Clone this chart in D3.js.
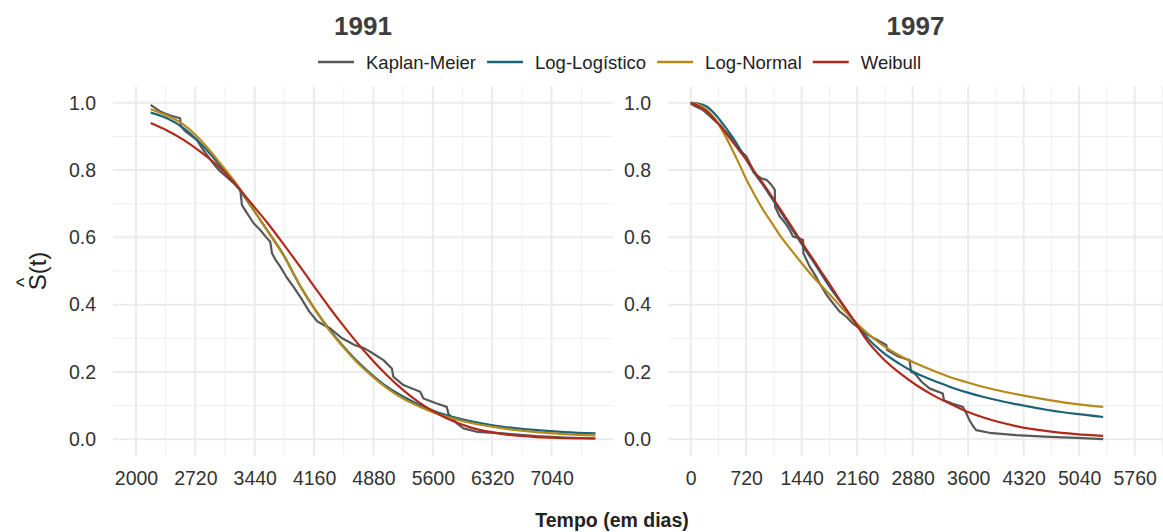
<!DOCTYPE html>
<html>
<head>
<meta charset="utf-8">
<script src="https://cdn.jsdelivr.net/npm/d3@7"></script>
<style>
    body { margin: 0; background: #fff; }
    svg { display: block; font-family: "Liberation Sans", Arial, sans-serif; }
</style>
</head>
<body>
<div id="chart"></div>
<script>

// Data ///////////////////////////////////////////////////////////////////////

const seriesNames = ["Kaplan-Meier", "Log-Logístico", "Log-Normal", "Weibull"];
const seriesColors = ["#585858", "#1d6377", "#b5891a", "#b02a1c"];
const panelTitles = ["1991", "1997"];

const yTicks = [0, 0.2, 0.4, 0.6, 0.8, 1.0];
const xTicks1991 = [2000, 2720, 3440, 4160, 4880, 5600, 6320, 7040];
const xTicks1997 = [0, 720, 1440, 2160, 2880, 3600, 4320, 5040, 5760];

// 1991: fitted curves
const t1991 = [2178, 2376, 2577, 2780, 2982, 3184, 3385, 3588, 3789, 3992, 4172, 4350,
    4500, 4650, 4841, 5043, 5244, 5446, 5648, 5850, 6052, 6456, 6860, 7200, 7573];
const ll1991 = [0.971, 0.954, 0.925, 0.88, 0.825, 0.766, 0.696, 0.622, 0.548, 0.455, 0.385, 0.325,
    0.28, 0.24, 0.196, 0.156, 0.126, 0.101, 0.081, 0.066, 0.054, 0.037, 0.027, 0.021, 0.017];
const ln1991 = [0.981, 0.962, 0.935, 0.89, 0.832, 0.77, 0.698, 0.622, 0.546, 0.455, 0.385, 0.322,
    0.278, 0.236, 0.192, 0.152, 0.12, 0.096, 0.076, 0.061, 0.049, 0.032, 0.021, 0.015, 0.011];
const wb1991 = [0.94, 0.918, 0.89, 0.855, 0.815, 0.765, 0.705, 0.645, 0.58, 0.512, 0.45, 0.39,
    0.342, 0.296, 0.242, 0.19, 0.145, 0.107, 0.077, 0.053, 0.035, 0.015, 0.006, 0.003, 0.002];

// 1991: Kaplan-Meier steps
const kmT1991 = [2178, 2230, 2290, 2350, 2420, 2480, 2535, 2545, 2600, 2680, 2739, 2800, 2860,
    2921, 2970, 3022, 3100, 3184, 3265, 3285, 3346, 3427, 3507, 3580, 3628, 3649, 3700, 3750,
    3830, 3911, 4000, 4100, 4200, 4350, 4500, 4650, 4770, 4841, 5001, 5103, 5122, 5243, 5446,
    5486, 5648, 5769, 5789, 5891, 5971, 6133, 6455, 6860, 7200, 7567];
const kmS1991 = [0.994, 0.985, 0.975, 0.968, 0.962, 0.958, 0.954, 0.93, 0.915, 0.9, 0.89, 0.865,
    0.845, 0.825, 0.81, 0.796, 0.78, 0.761, 0.741, 0.696, 0.672, 0.642, 0.622, 0.6, 0.587, 0.553,
    0.53, 0.513, 0.48, 0.453, 0.42, 0.38, 0.35, 0.33, 0.30, 0.28, 0.27, 0.26, 0.235, 0.21, 0.185,
    0.161, 0.141, 0.121, 0.106, 0.096, 0.076, 0.047, 0.032, 0.022, 0.017, 0.009, 0.005, 0.002];

// 1997: fitted curves
const t1997 = [0, 100, 207, 293, 379, 465, 552, 638, 725, 830, 940, 1050, 1156, 1264, 1372, 1480,
    1588, 1696, 1804, 1912, 2020, 2149, 2279, 2494, 2710, 2926, 3142, 3358, 3574, 3789, 4221,
    4653, 5000, 5352];
const ll1997 = [1.0, 0.998, 0.989, 0.972, 0.949, 0.923, 0.895, 0.863, 0.83, 0.79, 0.755, 0.717,
    0.68, 0.642, 0.604, 0.566, 0.529, 0.491, 0.453, 0.418, 0.384, 0.344, 0.305, 0.258, 0.224, 0.196,
    0.175, 0.156, 0.14, 0.126, 0.104, 0.086, 0.075, 0.066];
const ln1997 = [1.0, 0.995, 0.979, 0.959, 0.93, 0.895, 0.855, 0.814, 0.771, 0.726, 0.682, 0.644,
    0.607, 0.574, 0.543, 0.512, 0.483, 0.456, 0.43, 0.403, 0.376, 0.345, 0.318, 0.279, 0.249, 0.225,
    0.204, 0.185, 0.17, 0.156, 0.134, 0.116, 0.104, 0.096];
const wb1997 = [1.0, 0.99, 0.975, 0.955, 0.933, 0.908, 0.882, 0.856, 0.83, 0.795, 0.76, 0.723,
    0.686, 0.648, 0.61, 0.572, 0.535, 0.497, 0.46, 0.422, 0.385, 0.342, 0.296, 0.24, 0.197, 0.161,
    0.131, 0.106, 0.083, 0.065, 0.039, 0.023, 0.015, 0.01];

// 1997: Kaplan-Meier steps
const kmT1997 = [0, 60, 150, 250, 320, 379, 440, 509, 600, 680, 725, 790, 811, 850, 920, 984,
    1040, 1092, 1095, 1156, 1200, 1243, 1290, 1329, 1400, 1459, 1462, 1545, 1610, 1674, 1760,
    1847, 1930, 2020, 2100, 2192, 2300, 2420, 2538, 2550, 2700, 2839, 2860, 2904, 3000, 3098,
    3271, 3285, 3400, 3530, 3570, 3617, 3660, 3704, 3876, 4221, 4653, 5000, 5352];
const kmS1997 = [0.997, 0.99, 0.98, 0.96, 0.945, 0.935, 0.918, 0.9, 0.87, 0.85, 0.84, 0.81, 0.796,
    0.786, 0.775, 0.771, 0.758, 0.741, 0.691, 0.662, 0.65, 0.637, 0.62, 0.602, 0.598, 0.592, 0.553,
    0.513, 0.49, 0.463, 0.43, 0.404, 0.38, 0.364, 0.345, 0.329, 0.31, 0.295, 0.28, 0.265, 0.245,
    0.235, 0.2, 0.196, 0.17, 0.151, 0.136, 0.116, 0.105, 0.096, 0.08, 0.057, 0.04, 0.027, 0.019,
    0.012, 0.007, 0.004, 0.0];


// Layout /////////////////////////////////////////////////////////////////////

const params = {
    width: 1163,
    height: 532,
    top: 86,
    bottom: 456,
    fontSize: 19.5,
    legendFont: 18.5
};

const zip = (xs, ys) => xs.map((x, i) => ({ t: x, s: ys[i] }));

const panels = [
    {
        title: panelTitles[0],
        range: [113, 613],
        domain: [1721, 7785],
        ticks: xTicks1991,
        km: zip(kmT1991, kmS1991),
        fits: [zip(t1991, ll1991), zip(t1991, ln1991), zip(t1991, wb1991)]
    },
    {
        title: panelTitles[1],
        range: [668, 1163],
        domain: [-294, 6128],
        ticks: xTicks1997,
        km: zip(kmT1997, kmS1997),
        fits: [zip(t1997, ll1997), zip(t1997, ln1997), zip(t1997, wb1997)]
    }
];

const y = d3.scaleLinear()
    .domain([-0.05, 1.05])
    .range([params.bottom, params.top]);

const svg = d3.select("#chart")
    .append("svg")
        .attr("width", params.width)
        .attr("height", params.height)
        .attr("viewBox", [0, 0, params.width, params.height]);


// Panels /////////////////////////////////////////////////////////////////////

panels.forEach((p, pi) => {

    const x = d3.scaleLinear().domain(p.domain).range(p.range);
    const g = svg.append("g");

    const clipId = "clip-" + pi;
    g.append("clipPath")
        .attr("id", clipId)
        .append("rect")
            .attr("x", p.range[0])
            .attr("y", params.top)
            .attr("width", p.range[1] - p.range[0])
            .attr("height", params.bottom - params.top);

    // Minor grid
    const step = p.ticks[1] - p.ticks[0];
    const minorX = d3.range(p.ticks[0] - step / 2, p.domain[1], step)
        .filter(v => v >= p.domain[0] && v <= p.domain[1]);
    const minorY = [0.1, 0.3, 0.5, 0.7, 0.9];

    const grid = g.append("g").attr("clip-path", `url(#${clipId})`);

    grid.selectAll(".minor-x")
        .data(minorX)
        .join("line")
        .attr("x1", d => x(d)).attr("x2", d => x(d))
        .attr("y1", params.top).attr("y2", params.bottom)
        .attr("stroke", "#efefef").attr("stroke-width", 1);

    grid.selectAll(".minor-y")
        .data(minorY)
        .join("line")
        .attr("x1", p.range[0]).attr("x2", p.range[1])
        .attr("y1", d => y(d)).attr("y2", d => y(d))
        .attr("stroke", "#efefef").attr("stroke-width", 1);

    grid.selectAll(".major-x")
        .data(p.ticks)
        .join("line")
        .attr("x1", d => x(d)).attr("x2", d => x(d))
        .attr("y1", params.top).attr("y2", params.bottom)
        .attr("stroke", "#ebebeb").attr("stroke-width", 2);

    grid.selectAll(".major-y")
        .data(yTicks)
        .join("line")
        .attr("x1", p.range[0]).attr("x2", p.range[1])
        .attr("y1", d => y(d)).attr("y2", d => y(d))
        .attr("stroke", "#ebebeb").attr("stroke-width", 2);

    // Axes
    const xAxis = g.append("g")
        .attr("transform", `translate(0, ${params.bottom + 12})`)
        .call(d3.axisBottom(x).tickValues(p.ticks).tickSize(0).tickFormat(d3.format("d")));
    xAxis.select(".domain").remove();
    xAxis.selectAll("text")
        .attr("fill", "#333")
        .attr("font-size", params.fontSize)
        .attr("font-family", "Liberation Sans, Arial, sans-serif");

    const yAxis = g.append("g")
        .attr("transform", `translate(${p.range[0] - 14}, 0)`)
        .call(d3.axisLeft(y).tickValues(yTicks).tickSize(0).tickFormat(d3.format(".1f")));
    yAxis.select(".domain").remove();
    yAxis.selectAll("text")
        .attr("fill", "#333")
        .attr("font-size", params.fontSize)
        .attr("font-family", "Liberation Sans, Arial, sans-serif");

    // Curves
    const lines = g.append("g").attr("clip-path", `url(#${clipId})`);

    const kmLine = d3.line()
        .x(d => x(d.t)).y(d => y(d.s));
    const smoothLine = d3.line()
        .x(d => x(d.t)).y(d => y(d.s))
        .curve(d3.curveMonotoneX);

    lines.append("path")
        .datum(p.km)
        .attr("d", kmLine)
        .attr("fill", "none")
        .attr("stroke", seriesColors[0])
        .attr("stroke-width", 2.2)
        .attr("stroke-linejoin", "round");

    p.fits.forEach((f, i) => {
        lines.append("path")
            .datum(f)
            .attr("d", smoothLine)
            .attr("fill", "none")
            .attr("stroke", seriesColors[i + 1])
            .attr("stroke-width", 2.2);
    });

    // Panel title
    g.append("text")
        .attr("x", (p.range[0] + p.range[1]) / 2)
        .attr("y", 35)
        .attr("text-anchor", "middle")
        .attr("font-size", 26)
        .attr("font-weight", "bold")
        .attr("fill", "#3d3d3d")
        .text(p.title);
});


// Legend /////////////////////////////////////////////////////////////////////

const legend = svg.append("g").attr("transform", "translate(318, 62)");
let lx = 0;
seriesNames.forEach((name, i) => {
    legend.append("line")
        .attr("x1", lx).attr("x2", lx + 36)
        .attr("y1", 0).attr("y2", 0)
        .attr("stroke", seriesColors[i])
        .attr("stroke-width", 2.4);
    const txt = legend.append("text")
        .attr("x", lx + 48)
        .attr("y", 6.5)
        .attr("font-size", params.legendFont)
        .attr("fill", "#222")
        .text(name);
    lx += 48 + txt.node().getComputedTextLength() + 11;
});


// Axis titles ////////////////////////////////////////////////////////////////

svg.append("text")
    .attr("x", 612)
    .attr("y", 527)
    .attr("text-anchor", "middle")
    .attr("font-size", params.fontSize)
    .attr("font-weight", "bold")
    .attr("fill", "#222")
    .text("Tempo (em dias)");

const yTitle = svg.append("g")
    .attr("transform", `translate(46, ${(params.top + params.bottom) / 2}) rotate(-90)`);

const yLab = yTitle.append("text")
    .attr("y", 0)
    .attr("font-size", 24)
    .attr("fill", "#222")
    .text("S(t)");
const labW = yLab.node().getComputedTextLength();
yLab.attr("x", -labW / 2);

const sProbe = yTitle.append("text").attr("font-size", 24).text("S");
const sW = sProbe.node().getComputedTextLength();
sProbe.remove();

yTitle.append("text")
    .attr("x", -labW / 2 + sW / 2)
    .attr("y", -15)
    .attr("text-anchor", "middle")
    .attr("font-size", 20)
    .attr("fill", "#222")
    .text("^");

</script>
</body>
</html>
